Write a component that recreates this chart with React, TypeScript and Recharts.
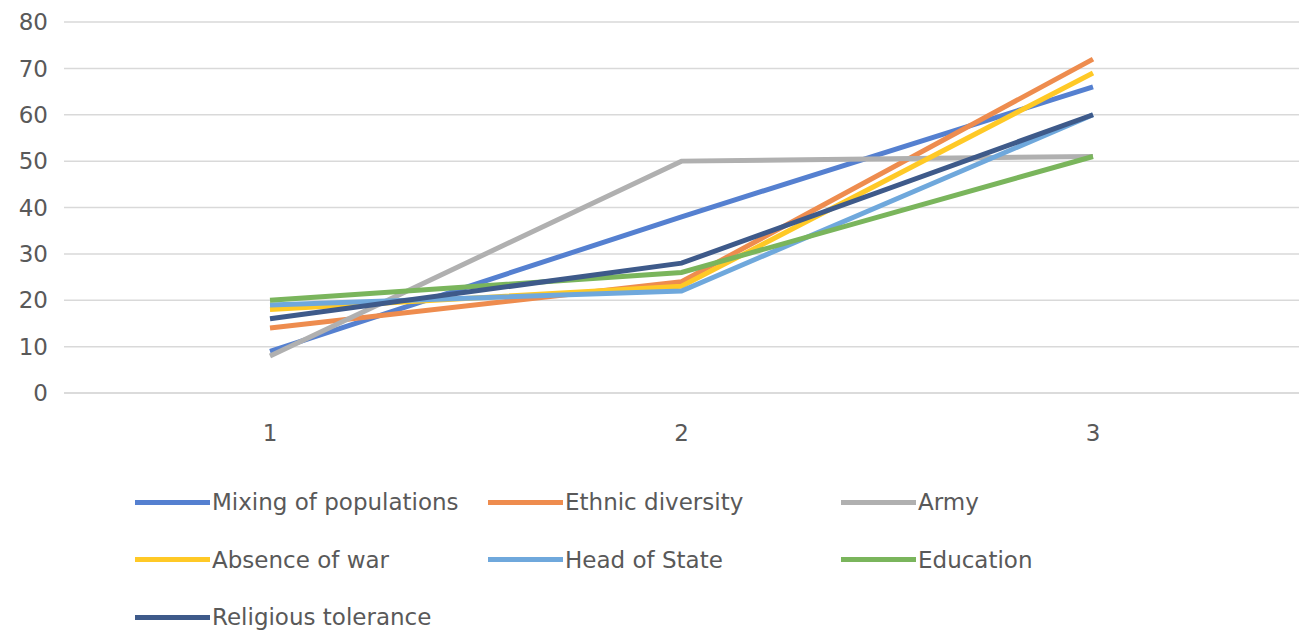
import React from "react";
import { LineChart, Line, XAxis, YAxis, CartesianGrid } from "recharts";

const categories = ["1", "2", "3"];
const seriesNames = ["Mixing of populations", "Ethnic diversity", "Army", "Absence of war", "Head of State", "Education", "Religious tolerance"];
const seriesColors = ["#5580D0", "#EE8C4E", "#B0B0B0", "#FFC926", "#6FA8DC", "#7AB55C", "#3E5A8A"];
const mixing = [9, 38, 66];
const ethnic = [14, 24, 72];
const army = [8, 50, 51];
const absence = [18, 23, 69];
const head = [19, 22, 60];
const education = [20, 26, 51];
const religious = [16, 28, 60];
const yTicks = [0, 10, 20, 30, 40, 50, 60, 70, 80];

const seriesValues = [mixing, ethnic, army, absence, head, education, religious];
const data = categories.map((c, i) => {
  const row: any = { cat: c };
  seriesNames.forEach((n, k) => (row[n] = seriesValues[k][i]));
  return row;
});

const font = "'DejaVu Sans', sans-serif";

export default function App() {
  return (
    <div style={{ position: "absolute", left: 0, top: 0, width: 1299, height: 634, background: "#fff", fontFamily: font }}>
      <LineChart width={1299} height={460} data={data} margin={{ top: 22, right: 0, left: 0, bottom: 37 }}>
        <CartesianGrid vertical={false} stroke="#D9D9D9" strokeWidth={1.5} />
        <XAxis dataKey="cat" padding={{ left: 206, right: 206 }} tickLine={false} axisLine={{ stroke: "#D9D9D9", strokeWidth: 1.5 }} tick={{ fill: "#595959", fontSize: 23 }} tickMargin={26} />
        <YAxis width={64} domain={[0, 80]} ticks={yTicks} axisLine={false} tickLine={false} tickSize={0} tickMargin={16} tick={{ fill: "#595959", fontSize: 23 }} />
        {seriesNames.map((n, k) => (
          <Line key={n} dataKey={n} stroke={seriesColors[k]} strokeWidth={5} dot={false} isAnimationActive={false} />
        ))}
      </LineChart>
      {seriesNames.map((n, k) => {
        const col = k % 3;
        const row = Math.floor(k / 3);
        return (
          <div key={n} style={{ position: "absolute", left: 135 + col * 353, top: 502 + row * 57.5 - 16, height: 32, display: "flex", alignItems: "center", color: "#595959", fontSize: 23 }}>
            <div style={{ width: 75, height: 5, background: seriesColors[k], marginRight: 2 }} />
            <span>{n}</span>
          </div>
        );
      })}
    </div>
  );
}
